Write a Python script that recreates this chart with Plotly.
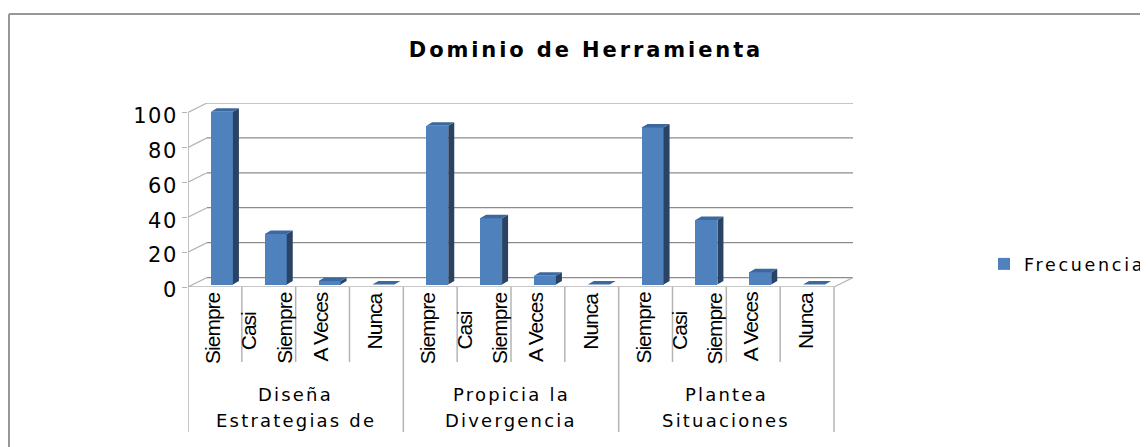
import plotly.graph_objects as go

# --- data ---
sub_categories = ["Siempre", "Casi Siempre", "A Veces", "Nunca"] * 3
frecuencia = [99, 29, 2, 0, 91, 38, 5, 0, 90, 37, 7, 0]
y_ticks = [0, 20, 40, 60, 80, 100]
group_line1 = ["Diseña", "Propicia la", "Plantea"]
group_line2 = ["Estrategias de", "Divergencia", "Situaciones"]
title_text = "Dominio de Herramienta"
series_name = "Frecuencia"

# --- canvas geometry (page pixels; the page body adds an 8px margin) ---
PAGE = 8
W, H = 1148, 447
L, R, T, B = 188, 853, 103, 287
cat_px = (834 - 188) / 12
y_px = (B - 112) / 100
DX = 19 / cat_px          # depth of the back wall, in category units
DY = 9.5 / y_px           # depth of the back wall, in value units
BAR_W = 22 / cat_px
BAR_SHIFT = 7 / cat_px
BAR_BASE = 2.5 / y_px
SIDE_X = 6 / cat_px
SIDE_Y = 3.5 / y_px

GRID = "#8C8C8C"
AXIS = "#B4B4B4"
FRONT = "#4F81BD"
SIDE = "#2A4365"
TOP = "#3B689E"
TXT = "#000000"


def py(p):
    return (B - p) / (B - T)


def px(p):
    return (p - L) / (R - L)


def spaced(text, sp):
    return f'<span style="letter-spacing:{sp}px">{text}</span>'


fig = go.Figure()
xs = list(range(len(frecuencia)))
fig.add_bar(
    x=[i + BAR_SHIFT for i in xs], y=frecuencia, base=BAR_BASE, width=BAR_W,
    marker=dict(color=FRONT, line=dict(width=0)), name=spaced(series_name, 2.7), showlegend=True,
    hoverinfo="skip",
)

side_x, side_y, top_x, top_y = [], [], [], []
for i, v in zip(xs, frecuencia):
    x0 = i + BAR_SHIFT - BAR_W / 2
    x1 = i + BAR_SHIFT + BAR_W / 2
    y0 = BAR_BASE
    y1 = BAR_BASE + v
    side_x += [x1, x1 + SIDE_X, x1 + SIDE_X, x1, x1, None]
    side_y += [y0, y0 + SIDE_Y, y1 + SIDE_Y, y1, y0, None]
    top_x += [x0, x1, x1 + SIDE_X, x0 + SIDE_X, x0, None]
    top_y += [y1, y1, y1 + SIDE_Y, y1 + SIDE_Y, y1, None]
for fx, fy, col in ((side_x, side_y, SIDE), (top_x, top_y, TOP)):
    fig.add_scatter(x=fx, y=fy, mode="none", fill="toself", fillcolor=col,
                    showlegend=False, hoverinfo="skip")

shapes = []
xl, xr = -0.5, 11.5
for v in y_ticks:
    shapes.append(dict(type="line", layer="below", x0=xl, x1=xl + DX, y0=v, y1=v + DY,
                       xref="x", yref="y", line=dict(color=AXIS, width=1.2)))
    shapes.append(dict(type="line", layer="below", x0=xl + DX, x1=xr + DX, y0=v + DY, y1=v + DY,
                       xref="x", yref="y", line=dict(color=GRID, width=1.2)))
shapes.append(dict(type="line", layer="below", x0=xr, x1=xr + DX, y0=0, y1=DY,
                   xref="x", yref="y", line=dict(color=AXIS, width=1.2)))
shapes.append(dict(type="line", layer="below", x0=xl, x1=xl, y0=0, y1=100,
                   xref="x", yref="y", line=dict(color=AXIS, width=1.6)))
shapes.append(dict(type="line", layer="below", x0=xl, x1=xr, y0=0, y1=0,
                   xref="x", yref="y", line=dict(color=AXIS, width=1.6)))
# category dividers below the axis
for k in range(13):
    drop = 145 if k % 4 == 0 else 75
    shapes.append(dict(type="line", xref="x", yref="paper", x0=xl + k, x1=xl + k,
                       y0=0, y1=-drop / (B - T), line=dict(color=AXIS, width=1.5)))
# outer chart frame: top and left edges only
shapes.append(dict(type="line", xref="paper", yref="paper", x0=px(9), x1=px(W), y0=py(14), y1=py(14),
                   line=dict(color="#989898", width=2)))
shapes.append(dict(type="line", xref="paper", yref="paper", x0=px(9), x1=px(9), y0=py(14), y1=py(H),
                   line=dict(color="#989898", width=2)))

annotations = []
# label placement per sub-category: (x offset in px, centre y in px)
place = {"Siempre": (-3, 328), "A Veces": (-3, 327), "Nunca": (-2, 321)}
for i, lab in zip(xs, sub_categories):
    if lab == "Casi Siempre":
        first, second = lab.split(" ")
        pieces = [(first, -20.5, 331), (second, 15, 328)]
    else:
        pieces = [(lab, place[lab][0], place[lab][1])]
    for text, off, cy in pieces:
        annotations.append(dict(
            text=spaced(text, -1), x=i + off / cat_px, y=py(cy), xref="x", yref="paper",
            textangle=-90, showarrow=False, xanchor="center", yanchor="middle",
            font=dict(family="Liberation Sans", size=21, color=TXT),
        ))
for g, (a, b) in enumerate(zip(group_line1, group_line2)):
    xc = 4 * g + 1.5
    for text, cy in ((a, 394), (b, 420)):
        annotations.append(dict(
            text=spaced(text, 2.2), x=xc, y=py(cy), xref="x", yref="paper", showarrow=False,
            xanchor="center", yanchor="middle",
            font=dict(family="DejaVu Sans", size=18, color=TXT),
        ))

fig.update_layout(
    width=W - PAGE, height=H - PAGE, autosize=False,
    margin=dict(l=L - PAGE, r=W - R, t=T - PAGE, b=H - B, pad=0, autoexpand=False),
    paper_bgcolor="white", plot_bgcolor="white",
    title=dict(text="<b>" + spaced(title_text, 2.9) + "</b>", x=(586 - PAGE) / (W - PAGE), xanchor="center",
               y=1 - (50 - PAGE) / (H - PAGE), yanchor="middle",
               font=dict(family="DejaVu Sans", size=21, color=TXT)),
    xaxis=dict(range=[xl, xr + DX], showgrid=False, zeroline=False, showticklabels=False,
               ticks="", showline=False, fixedrange=True),
    yaxis=dict(range=[0, 100 + DY], tickvals=y_ticks, ticktext=[spaced(v, 1.5) for v in y_ticks],
               showgrid=False, zeroline=False, ticklabelshift=3,
               ticks="outside", ticklen=5, tickcolor=AXIS, tickwidth=1.2, showline=False,
               tickfont=dict(family="DejaVu Sans", size=21, color=TXT), fixedrange=True),
    legend=dict(x=px(984), y=py(264), xanchor="left", yanchor="middle",
                font=dict(family="DejaVu Sans", size=17.5, color=TXT),
                bgcolor="rgba(0,0,0,0)", itemwidth=30),
    shapes=shapes, annotations=annotations, showlegend=True, bargap=0,
)
fig.write_html("out.html")
